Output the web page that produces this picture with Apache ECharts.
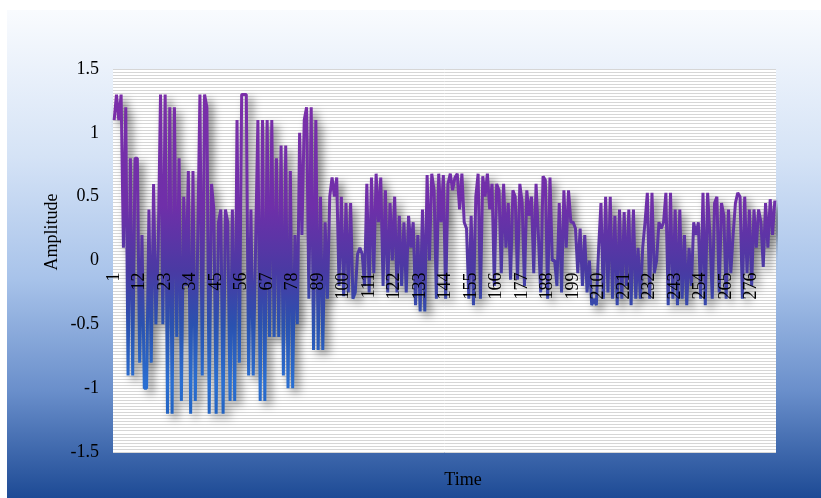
<!DOCTYPE html>
<html>
<head>
<meta charset="utf-8">
<title>Amplitude over time</title>
<script src="https://cdn.jsdelivr.net/npm/echarts@6/dist/echarts.min.js"></script>
<style>
  html, body { margin: 0; padding: 0; background: #fff; }
  #chart { width: 821px; height: 498px; }
</style>
</head>
<body>
<div id="chart"></div>
<script>
// sample index along the time axis
var timeSteps = [];
for (var i = 1; i <= 286; i++) timeSteps.push(String(i));

// amplitude, 10 per row
var amplitude = [
    1.1, 1.3, 1.1, 1.3, 0.1, 1.2, -0.9, 0.8, -0.9, 0.8,
    0.8, -0.8, 0.2, -1.0, -1.0, 0.4, -0.8, 0.6, -0.5, 0.1,
    1.3, -0.5, 1.3, -1.2, 1.2, -1.2, 1.2, -0.6, 0.8, -1.1,
    0.5, -0.2, 0.7, -1.2, 0.7, -1.1, 0.1, 1.3, -0.9, 1.3,
    1.2, -1.2, 0.6, 0.4, -1.2, 0.3, 0.4, -1.2, 0.4, 0.3,
    -1.1, 0.4, -1.1, 1.1, -0.8, 1.3, 1.3, 1.3, -0.9, 0.4,
    -0.9, 0.1, 1.1, -1.1, 1.1, -1.1, 1.1, -0.6, 1.1, -0.6,
    0.8, -0.6, 0.9, -0.9, 0.9, -1.0, 0.7, -1.0, 0.2, -0.5,
    1.0, 0.2, 1.1, 1.2, -0.3, 1.2, -0.7, 1.1, -0.7, 0.5,
    -0.7, 0.3, -0.3, 0.5, 0.65, 0.5, 0.65, -0.2, 0.5, -0.28,
    0.45, -0.25, 0.45, -0.3, -0.25, 0.05, 0.1, 0.05, -0.2, 0.6,
    -0.25, 0.65, -0.1, 0.68, 0.3, 0.65, -0.2, 0.55, -0.25, 0.45,
    0.0, 0.5, -0.25, 0.35, -0.2, 0.3, -0.25, 0.35, 0.1, 0.3,
    -0.35, 0.2, -0.4, 0.4, -0.4, 0.67, 0.0, 0.68, 0.55, -0.3,
    0.68, 0.3, 0.67, -0.3, 0.6, 0.68, 0.55, 0.65, 0.68, 0.4,
    0.68, 0.3, 0.25, -0.3, 0.35, -0.35, 0.5, 0.68, -0.3, 0.66,
    0.5, 0.68, 0.4, 0.6, -0.2, 0.6, 0.55, -0.1, 0.6, 0.1,
    0.45, -0.15, 0.55, 0.5, -0.15, 0.6, 0.45, -0.2, 0.55, 0.35,
    0.5, -0.1, 0.6, 0.2, -0.25, 0.66, 0.63, -0.3, 0.65, 0.0,
    0.0, -0.2, 0.45, -0.25, 0.55, 0.1, 0.55, 0.3, 0.3, 0.25,
    -0.1, 0.25, -0.2, 0.2, -0.25, 0.0, -0.35, -0.3, -0.35, 0.1,
    0.45, -0.3, 0.5, -0.25, 0.5, -0.3, 0.35, -0.35, 0.4, -0.3,
    0.38, -0.2, 0.4, -0.35, 0.4, -0.3, 0.1, -0.3, 0.1, 0.3,
    0.53, -0.3, 0.53, -0.1, 0.0, 0.3, 0.25, 0.3, 0.53, -0.35,
    0.53, -0.3, 0.4, -0.35, 0.4, -0.3, 0.2, -0.35, 0.1, -0.2,
    0.3, 0.2, 0.3, -0.3, 0.53, -0.35, 0.53, 0.2, -0.3, 0.45,
    0.5, -0.25, 0.45, 0.35, -0.3, 0.4, -0.1, 0.2, 0.45, 0.53,
    0.5, -0.3, 0.5, -0.1, 0.4, -0.2, 0.4, 0.1, 0.4, 0.3,
    -0.05, 0.45, 0.1, 0.48, 0.2, 0.47
];

var FONT = '"Liberation Serif", "Times New Roman", serif';

var chart = echarts.init(document.getElementById('chart'));

var option = {
    animation: false,
    // outer chart area, light at top to deep blue at the bottom
    backgroundColor: {
        type: 'linear', x: 0, y: 10, x2: 0, y2: 498, global: true,
        colorStops: [
            {offset: 0, color: '#f9fbfe'},
            {offset: 0.3, color: '#d5e3f6'},
            {offset: 0.55, color: '#a8c3ea'},
            {offset: 0.78, color: '#6a8fcb'},
            {offset: 1, color: '#1d4a95'}
        ]
    },
    graphic: [
        {type: 'rect', shape: {x: 0, y: 0, width: 821, height: 10}, style: {fill: '#fff'}, silent: true},
        {type: 'rect', shape: {x: 0, y: 0, width: 7, height: 498}, style: {fill: '#fff'}, silent: true},
        {
            type: 'text', x: 52, y: 232, rotation: Math.PI / 2,
            style: {text: 'Amplitude', font: '18px ' + FONT, fill: '#000', align: 'center', verticalAlign: 'middle'}
        },
        {
            type: 'text', x: 463, y: 480,
            style: {text: 'Time', font: '18px ' + FONT, fill: '#000', align: 'center', verticalAlign: 'middle'}
        }
    ],
    grid: {
        left: 113,
        right: 45,
        top: 69,
        bottom: 46,
        show: true,
        backgroundColor: '#ffffff',
        borderWidth: 0,
        containLabel: false,
        outerBoundsMode: 'none'
    },
    xAxis: {
        type: 'category',
        data: timeSteps,
        boundaryGap: true,
        z: 5, // labels drawn over the line
        // pulled up from the grid bottom onto the zero line
        offset: -191.5,
        axisLine: {show: false, onZero: false},
        axisTick: {show: false},
        axisLabel: {
            interval: 10,
            rotate: 90,
            margin: 12,
            color: '#000',
            fontSize: 18,
            fontFamily: FONT
        },
        splitLine: {show: false}
    },
    yAxis: {
        type: 'value',
        min: -1.5,
        max: 1.5,
        interval: 0.5,
        axisLine: {show: false},
        axisTick: {show: false},
        axisLabel: {
            margin: 14,
            color: '#000',
            fontSize: 18,
            fontFamily: FONT
        },
        splitLine: {show: true, lineStyle: {color: '#d6d6d6', width: 1}},
        minorTick: {show: false, splitNumber: 21},
        minorSplitLine: {show: true, lineStyle: {color: '#d6d6d6', width: 1}}
    },
    series: [
        {
            name: 'Amplitude',
            type: 'line',
            data: amplitude,
            showSymbol: false,
            symbol: 'none',
            lineStyle: {
                width: 3,
                color: {
                    type: 'linear', x: 0, y: 0, x2: 0, y2: 1,
                    colorStops: [
                        {offset: 0, color: '#7b2ea9'},
                        {offset: 0.35, color: '#6f2fa9'},
                        {offset: 0.55, color: '#4a3aa3'},
                        {offset: 0.72, color: '#2a52b0'},
                        {offset: 0.9, color: '#2a6fd2'},
                        {offset: 1, color: '#2262c0'}
                    ]
                },
                shadowColor: 'rgba(0, 0, 0, 0.5)',
                shadowBlur: 9,
                shadowOffsetX: 5,
                shadowOffsetY: 5
            }
        }
    ]
};

chart.setOption(option);
</script>
</body>
</html>
